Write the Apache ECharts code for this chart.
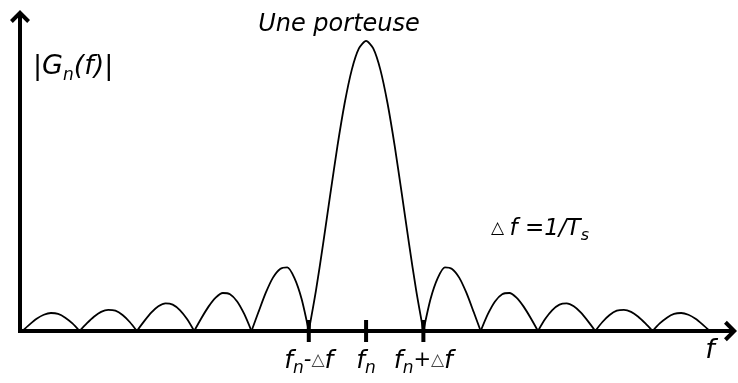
<!DOCTYPE html>
<html>
<head>
<meta charset="utf-8">
<script src="https://cdn.jsdelivr.net/npm/echarts@6/dist/echarts.min.js"></script>
<style>
  html, body { margin: 0; padding: 0; background: #fff; }
  #chart { width: 738px; height: 383px; }
</style>
</head>
<body>
<div id="chart"></div>
<script>
// Spectrum magnitude of one carrier: frequency in units of Δf around f_n
const freq = [
  -6, -5.875, -5.75, -5.625, -5.5, -5.375, -5.25, -5.125,
  -5, -4.875, -4.75, -4.625, -4.5, -4.375, -4.25, -4.125,
  -4, -3.875, -3.75, -3.625, -3.5, -3.375, -3.25, -3.125,
  -3, -2.875, -2.75, -2.625, -2.5, -2.375, -2.25, -2.125,
  -2, -1.875, -1.75, -1.625, -1.5, -1.375, -1.25, -1.125,
  -1, -0.875, -0.75, -0.625, -0.5, -0.375, -0.25, -0.125,
  0,
  0.125, 0.25, 0.375, 0.5, 0.625, 0.75, 0.875, 1,
  1.125, 1.25, 1.375, 1.5, 1.625, 1.75, 1.875, 2,
  2.125, 2.25, 2.375, 2.5, 2.625, 2.75, 2.875, 3,
  3.125, 3.25, 3.375, 3.5, 3.625, 3.75, 3.875, 4,
  4.125, 4.25, 4.375, 4.5, 4.625, 4.75, 4.875, 5,
  5.125, 5.25, 5.375, 5.5, 5.625, 5.75, 5.875, 6
];
const magnitude = [
  0, 0.022, 0.042, 0.056, 0.062, 0.059, 0.046, 0.026,
  0, 0.026, 0.049, 0.066, 0.073, 0.070, 0.055, 0.031,
  0, 0.033, 0.063, 0.085, 0.095, 0.091, 0.072, 0.041,
  0, 0.044, 0.084, 0.115, 0.131, 0.127, 0.102, 0.058,
  0, 0.067, 0.132, 0.184, 0.214, 0.219, 0.182, 0.110,
  0, 0.139, 0.300, 0.471, 0.637, 0.784, 0.900, 0.974,
  1,
  0.974, 0.900, 0.784, 0.637, 0.471, 0.300, 0.139, 0,
  0.110, 0.182, 0.219, 0.214, 0.184, 0.132, 0.067, 0,
  0.058, 0.102, 0.127, 0.131, 0.115, 0.084, 0.044, 0,
  0.041, 0.072, 0.091, 0.095, 0.085, 0.063, 0.033, 0,
  0.031, 0.055, 0.070, 0.073, 0.066, 0.049, 0.026, 0,
  0.026, 0.046, 0.059, 0.062, 0.056, 0.042, 0.022, 0
];

// Marked frequencies on the axis
const tickValues = [-1, 0, 1];
const tickLabels = ['{f|f}{n|n}{op|-}{d|△}{f|f}', '{f|f}{n|n}', '{f|f}{n|n}{op|+}{d|△}{f|f}'];

const FONT = '"DejaVu Sans", "Liberation Sans", sans-serif';

// split the curve into lobes at each zero so the cusps stay sharp
const lobes = [];
let current = [];
freq.forEach((f, i) => {
  current.push([f, magnitude[i]]);
  if (magnitude[i] === 0 && current.length > 1) {
    lobes.push(current);
    current = [[f, magnitude[i]]];
  }
});

const lobeSeries = lobes.map(pts => ({
  type: 'line',
  data: pts,
  smooth: 0.25,
  showSymbol: false,
  clip: false,
  silent: true,
  lineStyle: { color: '#000', width: 1.8 },
  z: 3
}));

const arrow = 'path://M0,10 L10,0 L20,10 L17.2,12.8 L10,5.6 L2.8,12.8 Z';

const txt = (extra) => Object.assign({
  fontFamily: FONT, fontStyle: 'italic', color: '#000'
}, extra);

const option = {
  animation: false,
  backgroundColor: '#fff',
  grid: { left: 20, right: 7.5, top: 16.5, bottom: 52 },
  xAxis: {
    type: 'value',
    min: -6.04,
    max: 6.36,
    axisLine: {
      onZero: true,
      symbol: ['none', arrow],
      symbolSize: [23, 13],
      lineStyle: { color: '#000', width: 4, cap: 'square' }
    },
    axisTick: { show: false },
    splitLine: { show: false },
    axisLabel: {
      customValues: tickValues,
      margin: 14,
      formatter: v => tickLabels[tickValues.indexOf(v)] || '',
      rich: {
        f: txt({ fontSize: 25, lineHeight: 32 }),
        n: txt({ fontSize: 17, lineHeight: 17, verticalAlign: 'bottom' }),
        op: txt({ fontSize: 21, lineHeight: 32 }),
        d: txt({ fontSize: 17, lineHeight: 32, fontStyle: 'normal', color: '#444' })
      }
    }
  },
  yAxis: {
    type: 'value',
    min: 0,
    max: 1.084,
    axisLine: {
      show: true,
      onZero: false,
      symbol: ['none', arrow],
      symbolSize: [20, 17],
      lineStyle: { color: '#000', width: 4, cap: 'square' }
    },
    axisTick: { show: false },
    axisLabel: { show: false },
    splitLine: { show: false }
  },
  graphic: [
    {
      type: 'text', x: 339, y: 25, silent: true,
      style: { text: 'Une porteuse', font: 'italic 24px ' + FONT, fill: '#000', align: 'center', verticalAlign: 'middle' }
    },
    {
      type: 'text', x: 33, y: 67, silent: true,
      style: {
        text: '{a||G}{s|n}{a|(f)|}', align: 'left', verticalAlign: 'middle',
        rich: {
          a: txt({ fontSize: 27, lineHeight: 34 }),
          s: txt({ fontSize: 17, lineHeight: 18, verticalAlign: 'bottom' })
        }
      }
    },
    {
      type: 'text', x: 540, y: 229, silent: true,
      style: {
        text: '{d|△ }{a|f =1/T}{s|s}', align: 'center', verticalAlign: 'middle',
        rich: {
          d: txt({ fontSize: 17, lineHeight: 30, fontStyle: 'normal', color: '#444' }),
          a: txt({ fontSize: 23, lineHeight: 30 }),
          s: txt({ fontSize: 16, lineHeight: 16, verticalAlign: 'bottom' })
        }
      }
    },
    {
      type: 'text', x: 710, y: 351, silent: true,
      style: { text: 'f', font: 'italic 27px ' + FONT, fill: '#000', align: 'center', verticalAlign: 'middle' }
    }
  ],
  series: lobeSeries.concat([{
    type: 'scatter',
    data: tickValues.map(v => [v, 0]),
    symbol: 'rect',
    symbolSize: [4, 22],
    clip: false,
    silent: true,
    itemStyle: { color: '#000', opacity: 1 },
    z: 4
  }])
};

echarts.init(document.getElementById('chart'), null, { renderer: 'canvas' }).setOption(option);
</script>
</body>
</html>
